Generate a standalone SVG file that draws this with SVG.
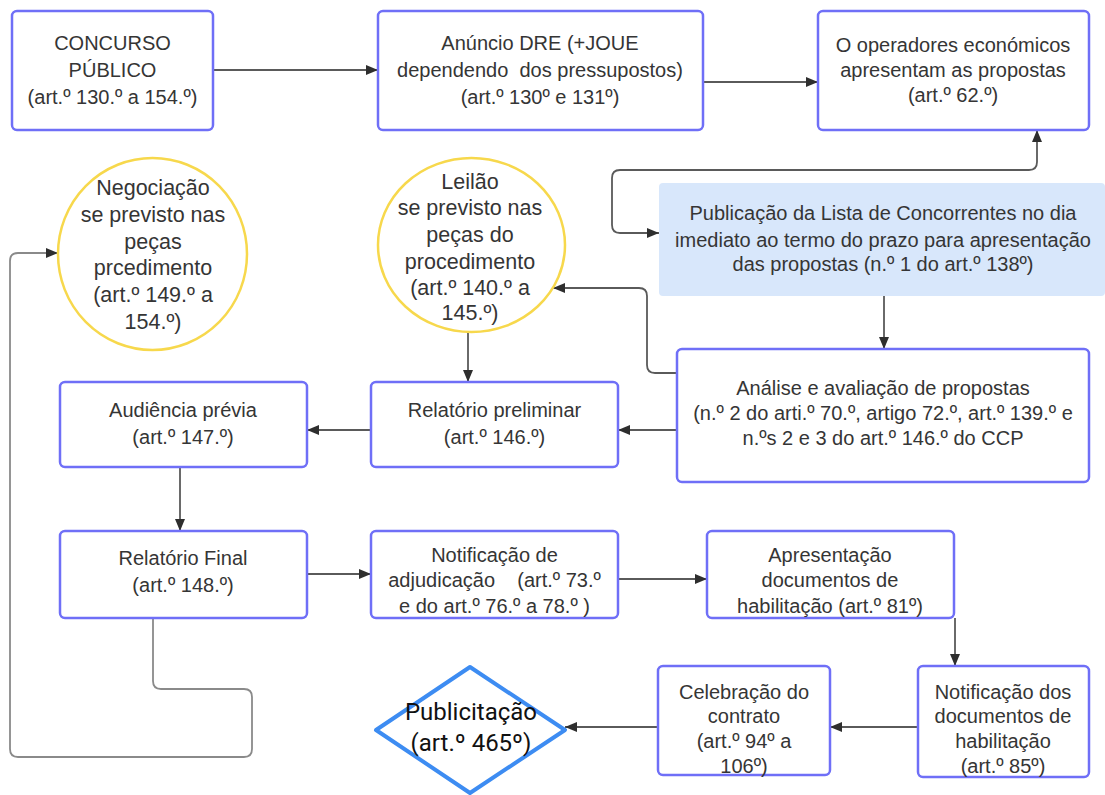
<svg xmlns="http://www.w3.org/2000/svg" width="1105" height="795" viewBox="0 0 1105 795">
<style>
.box{fill:#fff;stroke:#6f6ff7;stroke-width:2.5}
.circ{fill:#fff;stroke:#f7d84c;stroke-width:2.5}
.t{font-family:"Liberation Sans",Arial,sans-serif;font-size:20px;fill:#353535;text-anchor:middle}
.tc{font-family:"Liberation Sans",Arial,sans-serif;font-size:21.5px;fill:#353535;text-anchor:middle}
.td{font-family:Roboto,"Liberation Sans",sans-serif;font-size:24px;fill:#111;text-anchor:middle}
.c{fill:none;stroke:#5a5a5a;stroke-width:1.8}
.ca{fill:none;stroke:#5a5a5a;stroke-width:1.8;marker-end:url(#ah)}
</style>
<defs>
<marker id="ah" markerUnits="userSpaceOnUse" markerWidth="13" markerHeight="11" refX="12" refY="5" orient="auto-start-reverse">
<path d="M0,0 L12,5 L0,10 z" fill="#2e2e2e"/>
</marker>
</defs>

<g id="connectors">
<path class="ca" d="M213,70 H378"/>
<path class="ca" d="M703,82 H818"/>
<path class="ca" style="marker-start:url(#ah)" d="M659,233 H620 Q612,233 612,225 V178 Q612,170 620,170 H1029 Q1037,170 1037,162 V130"/>
<path class="ca" d="M884,296 V349"/>
<path class="ca" d="M677,373 H655 Q647,373 647,365 V296 Q647,288 639,288 H553"/>
<path class="ca" d="M677,430 H618"/>
<path class="ca" d="M468,332 V382"/>
<path class="ca" d="M371,430 H307"/>
<path class="ca" d="M180,467 V531"/>
<path class="ca" d="M307,574 H371"/>
<path class="ca" d="M618,579 H707"/>
<path class="ca" d="M955,618 V666"/>
<path class="ca" d="M918,727 H830"/>
<path class="ca" d="M658,727 H565"/>
<path class="ca" style="stroke:#8a8a8a" d="M153,618 V681 Q153,689 161,689 H244 Q252,689 252,697 V749 Q252,757 244,757 H18 Q10,757 10,749 V261 Q10,253 18,253 H58"/>
</g>

<g id="n1">
<rect class="box" x="12" y="11" width="201" height="119" rx="5"/>
<text class="t" x="112.5" y="50">CONCURSO</text>
<text class="t" x="112.5" y="77">PÚBLICO</text>
<text class="t" x="112.5" y="104">(art.º 130.º a 154.º)</text>
</g>

<g id="n2">
<rect class="box" x="378" y="11" width="325" height="119" rx="5"/>
<text class="t" x="540" y="50">Anúncio DRE (+JOUE</text>
<text class="t" x="540" y="77" xml:space="preserve">dependendo  dos pressupostos)</text>
<text class="t" x="540" y="104">(art.º 130º e 131º)</text>
</g>

<g id="n3">
<rect class="box" x="818" y="11" width="271" height="119" rx="5"/>
<text class="t" x="953" y="52">O operadores económicos</text>
<text class="t" x="953" y="77">apresentam as propostas</text>
<text class="t" x="953" y="102">(art.º 62.º)</text>
</g>

<g id="pub">
<rect x="659" y="183" width="446" height="113" rx="4" fill="#d8e7fb"/>
<text class="t" x="883" y="220">Publicação da Lista de Concorrentes no dia</text>
<text class="t" x="883" y="247">imediato ao termo do prazo para apresentação</text>
<text class="t" x="883" y="271">das propostas (n.º 1 do art.º 138º)</text>
</g>

<g id="negociacao">
<ellipse class="circ" cx="152.5" cy="254" rx="94.5" ry="96"/>
<text class="tc" x="153" y="195">Negociação</text>
<text class="tc" x="153" y="222">se previsto nas</text>
<text class="tc" x="153" y="249">peças</text>
<text class="tc" x="153" y="275">prcedimento</text>
<text class="tc" x="153" y="302">(art.º 149.º a</text>
<text class="tc" x="153" y="329">154.º)</text>
</g>

<g id="leilao">
<ellipse class="circ" cx="471.5" cy="245" rx="93.5" ry="87"/>
<text class="tc" x="470" y="189">Leilão</text>
<text class="tc" x="470" y="215">se previsto nas</text>
<text class="tc" x="470" y="242">peças do</text>
<text class="tc" x="470" y="269">procedimento</text>
<text class="tc" x="470" y="295">(art.º 140.º a</text>
<text class="tc" x="470" y="320">145.º)</text>
</g>

<g id="analise">
<rect class="box" x="677" y="349" width="412" height="133" rx="5"/>
<text class="t" x="883" y="395">Análise e avaliação de propostas</text>
<text class="t" x="883" y="420">(n.º 2 do arti.º 70.º, artigo 72.º, art.º 139.º e</text>
<text class="t" x="883" y="445">n.ºs 2 e 3 do art.º 146.º do CCP</text>
</g>

<g id="relprelim">
<rect class="box" x="371" y="382" width="247" height="85" rx="5"/>
<text class="t" x="494.5" y="417">Relatório preliminar</text>
<text class="t" x="494.5" y="444">(art.º 146.º)</text>
</g>

<g id="audiencia">
<rect class="box" x="60" y="382" width="247" height="85" rx="5"/>
<text class="t" x="183" y="417">Audiência prévia</text>
<text class="t" x="183" y="444">(art.º 147.º)</text>
</g>

<g id="relfinal">
<rect class="box" x="60" y="531" width="247" height="87" rx="5"/>
<text class="t" x="183" y="565">Relatório Final</text>
<text class="t" x="183" y="592">(art.º 148.º)</text>
</g>

<g id="notifadj">
<rect class="box" x="371" y="531" width="247" height="87" rx="5"/>
<text class="t" x="494.5" y="562">Notificação de</text>
<text class="t" x="494.5" y="587" xml:space="preserve">adjudicação    (art.º 73.º</text>
<text class="t" x="494.5" y="613">e do art.º 76.º a 78.º )</text>
</g>

<g id="apresentacao">
<rect class="box" x="707" y="531" width="247" height="87" rx="5"/>
<text class="t" x="830" y="562">Apresentação</text>
<text class="t" x="830" y="587">documentos de</text>
<text class="t" x="830" y="613">habilitação (art.º 81º)</text>
</g>

<g id="notifdos">
<rect class="box" x="918" y="666" width="171" height="111" rx="5"/>
<text class="t" x="1003" y="699">Notificação dos</text>
<text class="t" x="1003" y="723">documentos de</text>
<text class="t" x="1003" y="748">habilitação</text>
<text class="t" x="1003" y="773">(art.º 85º)</text>
</g>

<g id="celebracao">
<rect class="box" x="658" y="666" width="172" height="109" rx="5"/>
<text class="t" x="744" y="699">Celebração do</text>
<text class="t" x="744" y="723">contrato</text>
<text class="t" x="744" y="748">(art.º 94º a</text>
<text class="t" x="744" y="773">106º)</text>
</g>

<g id="publicitacao">
<polygon points="470,667 565,730 470,793 376,730" fill="#fff" stroke="#3d8cf2" stroke-width="4" stroke-linejoin="round"/>
<text class="td" x="471" y="720">Publicitação</text>
<text class="td" x="471" y="751">(art.º 465º)</text>
</g>
</svg>
